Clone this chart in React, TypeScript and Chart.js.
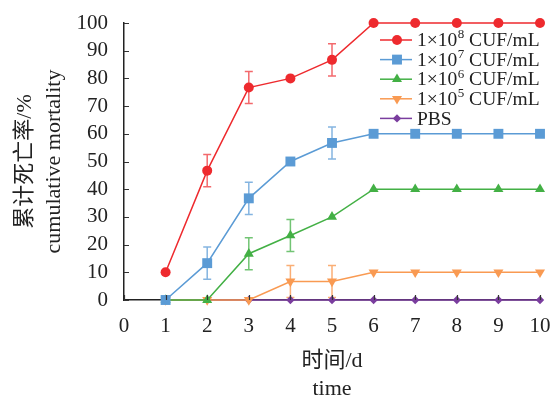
import React, { useEffect, useRef } from "react";
import { Chart, registerables } from "chart.js";

Chart.register(...registerables);

const days = [1, 2, 3, 4, 5, 6, 7, 8, 9, 10];
const legendBase = ["1×10", "1×10", "1×10", "1×10", "PBS"];
const legendExp = ["8", "7", "6", "5", ""];
const legendUnit = [" CUF/mL", " CUF/mL", " CUF/mL", " CUF/mL", ""];
const seriesLabels = ["1×10⁸ CUF/mL", "1×10⁷ CUF/mL", "1×10⁶ CUF/mL", "1×10⁵ CUF/mL", "PBS"];

const s1e8 = [10, 46.7, 76.7, 80, 86.7, 100, 100, 100, 100, 100];
const s1e8Err = [0, 5.8, 5.8, 0, 5.8, 0, 0, 0, 0, 0];
const s1e7 = [0, 13.3, 36.7, 50, 56.7, 60, 60, 60, 60, 60];
const s1e7Err = [0, 5.8, 5.8, 0, 5.8, 0, 0, 0, 0, 0];
const s1e6 = [0, 0, 16.7, 23.3, 30, 40, 40, 40, 40, 40];
const s1e6Err = [0, 0, 5.8, 5.8, 0, 0, 0, 0, 0, 0];
const s1e5 = [0, 0, 0, 6.7, 6.7, 10, 10, 10, 10, 10];
const s1e5Err = [0, 0, 0, 5.8, 5.8, 0, 0, 0, 0, 0];
const pbs = [0, 0, 0, 0, 0, 0, 0, 0, 0, 0];
const pbsErr = [0, 0, 0, 0, 0, 0, 0, 0, 0, 0];

const xTickValues = [0, 1, 2, 3, 4, 5, 6, 7, 8, 9, 10];
const yTickValues = [0, 10, 20, 30, 40, 50, 60, 70, 80, 90, 100];

const yTitle = ["累计死亡率/%", "cumulative mortality"];
const xTitle = ["时间/d", "time"];

const SERIF = "'Liberation Serif', 'Noto Sans CJK SC', serif";
const colors = ["#ee2a2e", "#5b9bd5", "#43b045", "#f99a52", "#7a3d9e"];
const errColors = ["rgba(238,42,46,0.7)", "rgba(91,155,213,0.75)", "rgba(67,176,69,0.75)", "rgba(249,154,82,0.8)", "rgba(122,61,158,0.7)"];
const pointStyles = ["circle", "rect", "triangle", "triangle", "rectRot"];
const pointRotations = [0, 0, 0, 180, 0];
const pointRadii = [5, 7, 5.8, 5.8, 4.2];
const values = [s1e8, s1e7, s1e6, s1e5, pbs];
const errors = [s1e8Err, s1e7Err, s1e6Err, s1e5Err, pbsErr];

function drawMarker(ctx: CanvasRenderingContext2D, style: string, rot: number, r: number, x: number, y: number, color: string) {
  ctx.save();
  ctx.fillStyle = color;
  ctx.beginPath();
  if (style === "circle") {
    ctx.arc(x, y, r, 0, Math.PI * 2);
  } else if (style === "rect") {
    const s = Math.SQRT1_2 * r;
    ctx.rect(x - s, y - s, 2 * s, 2 * s);
  } else if (style === "triangle") {
    let rad = (rot * Math.PI) / 180;
    ctx.moveTo(x + Math.sin(rad) * r, y - Math.cos(rad) * r);
    rad += (2 * Math.PI) / 3;
    ctx.lineTo(x + Math.sin(rad) * r, y - Math.cos(rad) * r);
    rad += (2 * Math.PI) / 3;
    ctx.lineTo(x + Math.sin(rad) * r, y - Math.cos(rad) * r);
    ctx.closePath();
  } else if (style === "rectRot") {
    ctx.moveTo(x, y - r);
    ctx.lineTo(x + r, y);
    ctx.lineTo(x, y + r);
    ctx.lineTo(x - r, y);
    ctx.closePath();
  }
  ctx.fill();
  ctx.restore();
}

const errorBarPlugin = {
  id: "errorBars",
  beforeDatasetsDraw(chart: any) {
    const ctx = chart.ctx as CanvasRenderingContext2D;
    const yScale = chart.scales.y;
    chart.data.datasets.forEach((ds: any, di: number) => {
      const meta = chart.getDatasetMeta(di);
      const errs = errors[di];
      meta.data.forEach((pt: any, i: number) => {
        const e = errs[i];
        if (!e) return;
        const v = values[di][i];
        const yTop = yScale.getPixelForValue(v + e);
        const yBot = yScale.getPixelForValue(v - e);
        ctx.save();
        ctx.strokeStyle = errColors[di];
        ctx.lineWidth = 1.5;
        ctx.beginPath();
        ctx.moveTo(pt.x, yTop);
        ctx.lineTo(pt.x, yBot);
        ctx.moveTo(pt.x - 4, yTop);
        ctx.lineTo(pt.x + 4, yTop);
        ctx.moveTo(pt.x - 4, yBot);
        ctx.lineTo(pt.x + 4, yBot);
        ctx.stroke();
        ctx.restore();
      });
    });
  },
};

const decorPlugin = {
  id: "decor",
  afterDraw(chart: any) {
    const ctx = chart.ctx as CanvasRenderingContext2D;
    const area = chart.chartArea;
    const xs = chart.scales.x;
    const ys = chart.scales.y;
    // inward ticks
    ctx.save();
    ctx.strokeStyle = "#333";
    ctx.lineWidth = 1.2;
    ctx.beginPath();
    yTickValues.forEach((v) => {
      const y = Math.round(ys.getPixelForValue(v)) + 0.5;
      ctx.moveTo(area.left, y);
      ctx.lineTo(area.left + 5, y);
    });
    xTickValues.forEach((v) => {
      const x = Math.round(xs.getPixelForValue(v)) + 0.5;
      ctx.moveTo(x, area.bottom);
      ctx.lineTo(x, area.bottom - 5);
    });
    ctx.stroke();
    ctx.restore();

    // axis titles
    ctx.save();
    ctx.fillStyle = "#222";
    ctx.font = `22px ${SERIF}`;
    ctx.textAlign = "center";
    ctx.textBaseline = "alphabetic";
    const cx = (area.left + area.right) / 2;
    ctx.fillText(xTitle[0], cx, 367);
    ctx.fillText(xTitle[1], cx, 395);
    const cy = (area.top + area.bottom) / 2;
    ctx.translate(0, cy);
    ctx.rotate(-Math.PI / 2);
    ctx.fillText(yTitle[0], 0, 31);
    ctx.fillText(yTitle[1], 0, 60);
    ctx.restore();

    // legend
    ctx.save();
    const lx0 = 380, lx1 = 412, mx = 397, tx = 417;
    const rowY = [40, 59.6, 79.2, 98.8, 118.4];
    chart.data.datasets.forEach((ds: any, di: number) => {
      const y = rowY[di];
      ctx.strokeStyle = colors[di];
      ctx.lineWidth = 1.5;
      ctx.beginPath();
      ctx.moveTo(lx0, y);
      ctx.lineTo(lx1, y);
      ctx.stroke();
      drawMarker(ctx, pointStyles[di], pointRotations[di], pointRadii[di], mx, y, colors[di]);
      ctx.fillStyle = "#222";
      ctx.textAlign = "left";
      ctx.textBaseline = "middle";
      ctx.font = `19.5px ${SERIF}`;
      let x = tx;
      ctx.fillText(legendBase[di], x, y + 1);
      x += ctx.measureText(legendBase[di]).width;
      if (legendExp[di]) {
        ctx.font = `13px ${SERIF}`;
        ctx.fillText(legendExp[di], x + 0.5, y - 5);
        x += ctx.measureText(legendExp[di]).width + 0.5;
        ctx.font = `19.5px ${SERIF}`;
        ctx.fillText(legendUnit[di], x, y + 1);
      }
    });
    ctx.restore();
  },
};

export default function App() {
  const ref = useRef<HTMLCanvasElement | null>(null);
  useEffect(() => {
    if (!ref.current) return;
    const datasets = values.map((vals, di) => ({
      label: seriesLabels[di],
      data: days.map((d, i) => ({ x: d, y: vals[i] })),
      borderColor: colors[di],
      backgroundColor: colors[di],
      borderWidth: 1.5,
      pointStyle: pointStyles[di] as any,
      rotation: pointRotations[di],
      pointRadius: pointRadii[di],
      pointBorderWidth: 0,
      pointBackgroundColor: colors[di],
      pointBorderColor: colors[di],
      tension: 0,
      fill: false,
      clip: false as any,
    }));
    const chart = new Chart(ref.current, {
      type: "line",
      data: { datasets },
      plugins: [errorBarPlugin, decorPlugin],
      options: {
        animation: false,
        responsive: false,
        events: [],
        layout: { padding: { top: 23, right: 15, left: 0, bottom: 0 } },
        plugins: { legend: { display: false }, tooltip: { enabled: false } },
        scales: {
          x: {
            type: "linear",
            min: 0,
            max: 10,
            afterBuildTicks: (s: any) => {
              s.ticks = xTickValues.map((v) => ({ value: v }));
            },
            afterFit: (s: any) => {
              s.height = 98;
              s.paddingLeft = 0;
              s.paddingRight = 0;
            },
            grid: { display: false, drawTicks: false },
            border: { display: true, color: "#222", width: 1.5 },
            ticks: { padding: 14, autoSkip: false, maxRotation: 0, color: "#222", font: { family: SERIF, size: 21 } },
          },
          y: {
            type: "linear",
            min: 0,
            max: 100,
            afterBuildTicks: (s: any) => {
              s.ticks = yTickValues.map((v) => ({ value: v }));
            },
            afterFit: (s: any) => {
              s.width = 124;
              s.paddingTop = 0;
              s.paddingBottom = 0;
            },
            grid: { display: false, drawTicks: false },
            border: { display: true, color: "#222", width: 1.5 },
            ticks: { padding: 16, autoSkip: false, color: "#222", font: { family: SERIF, size: 21 } },
          },
        },
      },
    });
    return () => chart.destroy();
  }, []);
  return (
    <div style={{ position: "absolute", left: 0, top: 0, width: 555, height: 398, background: "#fff" }}>
      <canvas ref={ref} width={555} height={398} style={{ display: "block" }} />
    </div>
  );
}
